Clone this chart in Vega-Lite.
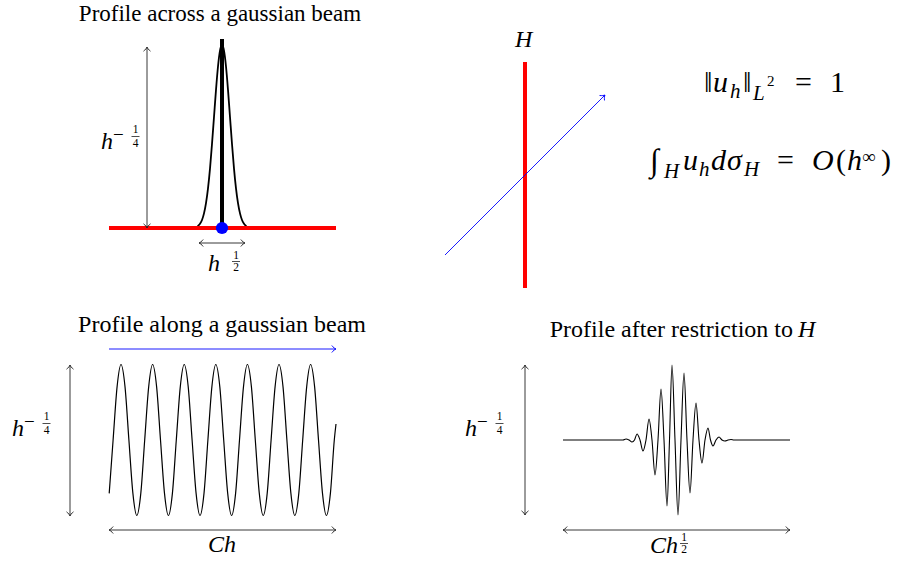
{
  "$schema": "https://vega.github.io/schema/vega-lite/v6.json",
  "width": 901,
  "height": 567,
  "autosize": {"type": "fit", "contains": "padding"},
  "padding": 0,
  "background": "white",
  "config": {"view": {"stroke": null}},
  "datasets": {
    "gaussian": [
      {"x": 196, "y": 228}, {"x": 198, "y": 226}, {"x": 200, "y": 223.8}, {"x": 202, "y": 220},
      {"x": 204, "y": 213.4}, {"x": 206, "y": 203.2}, {"x": 208, "y": 188.4}, {"x": 210, "y": 168.6},
      {"x": 212, "y": 144}, {"x": 214, "y": 117}, {"x": 216, "y": 89.9}, {"x": 218, "y": 66.5},
      {"x": 220, "y": 50.7}, {"x": 222, "y": 45}, {"x": 224, "y": 50.7}, {"x": 226, "y": 66.5},
      {"x": 228, "y": 89.9}, {"x": 230, "y": 117}, {"x": 232, "y": 144}, {"x": 234, "y": 168.6},
      {"x": 236, "y": 188.4}, {"x": 238, "y": 203.2}, {"x": 240, "y": 213.4}, {"x": 242, "y": 220},
      {"x": 244, "y": 223.8}, {"x": 246, "y": 226}, {"x": 248, "y": 228}
    ],
    "redLines": [
      {"x": 109, "y": 228, "x2": 336, "y2": 228},
      {"x": 525, "y": 62, "x2": 525, "y2": 288}
    ],
    "beamAxis": [{"x": 222, "y": 39, "x2": 222, "y2": 228}],
    "dot": [{"x": 222, "y": 228}],
    "dims": [
      {"x": 147, "y": 47, "x2": 147, "y2": 228},
      {"x": 199, "y": 243, "x2": 245, "y2": 243},
      {"x": 70, "y": 365, "x2": 70, "y2": 516},
      {"x": 109, "y": 530, "x2": 336, "y2": 530},
      {"x": 525, "y": 365, "x2": 525, "y2": 515},
      {"x": 563, "y": 530, "x2": 790, "y2": 530}
    ],
    "dimHeads": [
      {"x": 147, "y": 47, "angle": -90}, {"x": 147, "y": 228, "angle": 90},
      {"x": 199, "y": 243, "angle": 180}, {"x": 245, "y": 243, "angle": 0},
      {"x": 70, "y": 365, "angle": -90}, {"x": 70, "y": 516, "angle": 90},
      {"x": 109, "y": 530, "angle": 180}, {"x": 336, "y": 530, "angle": 0},
      {"x": 525, "y": 365, "angle": -90}, {"x": 525, "y": 515, "angle": 90},
      {"x": 563, "y": 530, "angle": 180}, {"x": 790, "y": 530, "angle": 0}
    ],
    "rays": [
      {"x": 445, "y": 255, "x2": 605, "y2": 95},
      {"x": 109, "y": 349, "x2": 336, "y2": 349}
    ],
    "rayHeads": [
      {"x": 605, "y": 95, "angle": -45},
      {"x": 336, "y": 349, "angle": 0}
    ],
    "sine": [
      {"x": 109.2, "y": 493.4}, {"x": 113.1, "y": 440}, {"x": 117.1, "y": 386.6}, {"x": 121, "y": 364.5},
      {"x": 125, "y": 386.6}, {"x": 128.9, "y": 440}, {"x": 132.9, "y": 493.4}, {"x": 136.8, "y": 515.5},
      {"x": 140.8, "y": 493.4}, {"x": 144.7, "y": 440}, {"x": 148.7, "y": 386.6}, {"x": 152.6, "y": 364.5},
      {"x": 156.6, "y": 386.6}, {"x": 160.5, "y": 440}, {"x": 164.5, "y": 493.4}, {"x": 168.4, "y": 515.5},
      {"x": 172.4, "y": 493.4}, {"x": 176.3, "y": 440}, {"x": 180.3, "y": 386.6}, {"x": 184.2, "y": 364.5},
      {"x": 188.2, "y": 386.6}, {"x": 192.1, "y": 440}, {"x": 196.1, "y": 493.4}, {"x": 200, "y": 515.5},
      {"x": 204, "y": 493.4}, {"x": 207.9, "y": 440}, {"x": 211.9, "y": 386.6}, {"x": 215.8, "y": 364.5},
      {"x": 219.8, "y": 386.6}, {"x": 223.7, "y": 440}, {"x": 227.7, "y": 493.4}, {"x": 231.6, "y": 515.5},
      {"x": 235.6, "y": 493.4}, {"x": 239.5, "y": 440}, {"x": 243.5, "y": 386.6}, {"x": 247.4, "y": 364.5},
      {"x": 251.4, "y": 386.6}, {"x": 255.3, "y": 440}, {"x": 259.3, "y": 493.4}, {"x": 263.2, "y": 515.5},
      {"x": 267.2, "y": 493.4}, {"x": 271.1, "y": 440}, {"x": 275.1, "y": 386.6}, {"x": 279, "y": 364.5},
      {"x": 283, "y": 386.6}, {"x": 286.9, "y": 440}, {"x": 290.9, "y": 493.4}, {"x": 294.8, "y": 515.5},
      {"x": 298.8, "y": 493.4}, {"x": 302.7, "y": 440}, {"x": 306.7, "y": 386.6}, {"x": 310.6, "y": 364.5},
      {"x": 314.6, "y": 386.6}, {"x": 318.5, "y": 440}, {"x": 322.5, "y": 493.4}, {"x": 326.4, "y": 515.5},
      {"x": 330.4, "y": 493.4}, {"x": 334.3, "y": 440}, {"x": 336, "y": 424}
    ],
    "packet": [
      {"x": 563, "y": 440}, {"x": 610, "y": 440}, {"x": 620, "y": 440}, {"x": 623, "y": 440},
      {"x": 626, "y": 439}, {"x": 629, "y": 440}, {"x": 632, "y": 442}, {"x": 634.5, "y": 440},
      {"x": 637, "y": 434}, {"x": 640, "y": 440}, {"x": 643, "y": 451}, {"x": 646, "y": 440},
      {"x": 649, "y": 419}, {"x": 652, "y": 440}, {"x": 655, "y": 475}, {"x": 658, "y": 440},
      {"x": 661, "y": 389}, {"x": 664, "y": 440}, {"x": 667, "y": 506}, {"x": 669.5, "y": 440},
      {"x": 672, "y": 365}, {"x": 675, "y": 440}, {"x": 678, "y": 515}, {"x": 681, "y": 440},
      {"x": 684, "y": 373}, {"x": 687, "y": 440}, {"x": 690, "y": 493}, {"x": 693, "y": 440},
      {"x": 696, "y": 403}, {"x": 699, "y": 440}, {"x": 702, "y": 463}, {"x": 705, "y": 440},
      {"x": 708, "y": 428}, {"x": 710.5, "y": 440}, {"x": 713, "y": 446}, {"x": 716, "y": 440},
      {"x": 719, "y": 437}, {"x": 722, "y": 440}, {"x": 725, "y": 441}, {"x": 728, "y": 440},
      {"x": 731, "y": 439.5}, {"x": 734, "y": 440}, {"x": 790, "y": 440}
    ],
    "fractionBars": [
      {"x": 131.5, "y": 136.5, "x2": 139.5, "y2": 136.5},
      {"x": 42.5, "y": 423.5, "x2": 50.5, "y2": 423.5},
      {"x": 495.5, "y": 423.5, "x2": 503.5, "y2": 423.5},
      {"x": 232, "y": 261.5, "x2": 240, "y2": 261.5},
      {"x": 680, "y": 543.5, "x2": 688, "y2": 543.5}
    ],
    "titleTop": [
      {"x": 220, "y": 21, "text": "Profile across a gaussian beam"}
    ],
    "titles": [
      {"x": 222, "y": 332, "text": "Profile along a gaussian beam"}
    ],
    "titleRight": [
      {"x": 793, "y": 337, "text": "Profile after restriction to"}
    ],
    "labels": [
      {"x": 101, "y": 149, "text": "h"},
      {"x": 12, "y": 436, "text": "h"},
      {"x": 465, "y": 436, "text": "h"},
      {"x": 208, "y": 271, "text": "h"},
      {"x": 650, "y": 553, "text": "Ch"},
      {"x": 208, "y": 552, "text": "Ch"},
      {"x": 515, "y": 47, "text": "H"},
      {"x": 798, "y": 337, "text": "H"}
    ],
    "supUpright": [
      {"x": 113, "y": 141, "text": "−"},
      {"x": 24, "y": 428, "text": "−"},
      {"x": 477, "y": 428, "text": "−"},
      {"x": 862, "y": 163, "text": "∞"}
    ],
    "digits": [
      {"x": 135.5, "y": 133, "text": "1"}, {"x": 135.5, "y": 147, "text": "4"},
      {"x": 46.5, "y": 420, "text": "1"}, {"x": 46.5, "y": 434, "text": "4"},
      {"x": 499.5, "y": 420, "text": "1"}, {"x": 499.5, "y": 434, "text": "4"},
      {"x": 236, "y": 259, "text": "1"}, {"x": 236, "y": 271, "text": "2"},
      {"x": 684, "y": 541, "text": "1"}, {"x": 684, "y": 553, "text": "2"}
    ],
    "powerDigits": [
      {"x": 767, "y": 86, "text": "2"}
    ],
    "formulaItalic": [
      {"x": 713, "y": 92, "text": "u"},
      {"x": 683, "y": 170, "text": "u"},
      {"x": 711, "y": 170, "text": "d"},
      {"x": 727, "y": 170, "text": "σ"},
      {"x": 812, "y": 170, "text": "O"},
      {"x": 847, "y": 170, "text": "h"}
    ],
    "formulaUpright": [
      {"x": 704, "y": 92, "text": "‖"},
      {"x": 743, "y": 92, "text": "‖"},
      {"x": 795, "y": 92, "text": "="},
      {"x": 830, "y": 92, "text": "1"},
      {"x": 777, "y": 170, "text": "="},
      {"x": 836, "y": 170, "text": "("},
      {"x": 881, "y": 170, "text": ")"}
    ],
    "integral": [{"x": 650, "y": 171, "text": "∫"}],
    "subItalic": [
      {"x": 730, "y": 98, "text": "h"},
      {"x": 753, "y": 100, "text": "L"},
      {"x": 664, "y": 178, "text": "H"},
      {"x": 699, "y": 176, "text": "h"},
      {"x": 744, "y": 176, "text": "H"}
    ]
  },
  "encoding": {
    "x": {"field": "x", "type": "quantitative", "scale": {"domain": [0, 901], "nice": false, "zero": false}, "axis": null},
    "y": {"field": "y", "type": "quantitative", "scale": {"domain": [0, 567], "nice": false, "zero": false, "reverse": true}, "axis": null}
  },
  "layer": [
    {
      "data": {"name": "gaussian"},
      "mark": {"type": "line", "interpolate": "monotone", "color": "black", "strokeWidth": 1.8}
    },
    {
      "data": {"name": "redLines"},
      "mark": {"type": "rule", "color": "#ff0000", "strokeWidth": 4},
      "encoding": {"x2": {"field": "x2"}, "y2": {"field": "y2"}}
    },
    {
      "data": {"name": "beamAxis"},
      "mark": {"type": "rule", "color": "black", "strokeWidth": 4},
      "encoding": {"x2": {"field": "x2"}, "y2": {"field": "y2"}}
    },
    {
      "data": {"name": "dot"},
      "mark": {"type": "point", "shape": "circle", "filled": true, "color": "#0000ff", "opacity": 1, "size": 150}
    },
    {
      "data": {"name": "dims"},
      "mark": {"type": "rule", "color": "#222222", "strokeWidth": 0.9},
      "encoding": {"x2": {"field": "x2"}, "y2": {"field": "y2"}}
    },
    {
      "data": {"name": "dimHeads"},
      "mark": {"type": "point", "shape": "M-1.2,-1C-0.8,-0.45,-0.3,-0.1,0,0C-0.3,0.1,-0.8,0.45,-1.2,1", "filled": false, "color": "#222222", "opacity": 1, "strokeWidth": 0.9, "size": 49},
      "encoding": {"angle": {"field": "angle", "type": "quantitative", "scale": null}}
    },
    {
      "data": {"name": "rays"},
      "mark": {"type": "rule", "color": "#0000ff", "strokeWidth": 0.9},
      "encoding": {"x2": {"field": "x2"}, "y2": {"field": "y2"}}
    },
    {
      "data": {"name": "rayHeads"},
      "mark": {"type": "point", "shape": "M-1.2,-1C-0.8,-0.45,-0.3,-0.1,0,0C-0.3,0.1,-0.8,0.45,-1.2,1", "filled": false, "color": "#0000ff", "opacity": 1, "strokeWidth": 0.9, "size": 49},
      "encoding": {"angle": {"field": "angle", "type": "quantitative", "scale": null}}
    },
    {
      "data": {"name": "sine"},
      "mark": {"type": "line", "interpolate": "monotone", "color": "black", "strokeWidth": 1.2}
    },
    {
      "data": {"name": "packet"},
      "mark": {"type": "line", "interpolate": "monotone", "color": "black", "strokeWidth": 1.1}
    },
    {
      "data": {"name": "fractionBars"},
      "mark": {"type": "rule", "color": "black", "strokeWidth": 0.7},
      "encoding": {"x2": {"field": "x2"}, "y2": {"field": "y2"}}
    },
    {
      "data": {"name": "titleTop"},
      "mark": {"type": "text", "font": "Liberation Serif, DejaVu Serif, serif", "fontSize": 23, "align": "center", "baseline": "alphabetic", "color": "black"},
      "encoding": {"text": {"field": "text"}}
    },
    {
      "data": {"name": "titles"},
      "mark": {"type": "text", "font": "Liberation Serif, DejaVu Serif, serif", "fontSize": 24, "align": "center", "baseline": "alphabetic", "color": "black"},
      "encoding": {"text": {"field": "text"}}
    },
    {
      "data": {"name": "titleRight"},
      "mark": {"type": "text", "font": "Liberation Serif, DejaVu Serif, serif", "fontSize": 24, "align": "right", "baseline": "alphabetic", "color": "black"},
      "encoding": {"text": {"field": "text"}}
    },
    {
      "data": {"name": "labels"},
      "mark": {"type": "text", "font": "Liberation Serif, DejaVu Serif, serif", "fontSize": 24, "fontStyle": "italic", "align": "left", "baseline": "alphabetic", "color": "black"},
      "encoding": {"text": {"field": "text"}}
    },
    {
      "data": {"name": "supUpright"},
      "mark": {"type": "text", "font": "Liberation Serif, DejaVu Serif, serif", "fontSize": 19, "align": "left", "baseline": "alphabetic", "color": "black"},
      "encoding": {"text": {"field": "text"}}
    },
    {
      "data": {"name": "digits"},
      "mark": {"type": "text", "font": "Liberation Serif, DejaVu Serif, serif", "fontSize": 11.5, "align": "center", "baseline": "alphabetic", "color": "black"},
      "encoding": {"text": {"field": "text"}}
    },
    {
      "data": {"name": "powerDigits"},
      "mark": {"type": "text", "font": "Liberation Serif, DejaVu Serif, serif", "fontSize": 15, "align": "left", "baseline": "alphabetic", "color": "black"},
      "encoding": {"text": {"field": "text"}}
    },
    {
      "data": {"name": "formulaItalic"},
      "mark": {"type": "text", "font": "Liberation Serif, DejaVu Serif, serif", "fontSize": 30, "fontStyle": "italic", "align": "left", "baseline": "alphabetic", "color": "black"},
      "encoding": {"text": {"field": "text"}}
    },
    {
      "data": {"name": "formulaUpright"},
      "mark": {"type": "text", "font": "Liberation Serif, DejaVu Serif, serif", "fontSize": 30, "align": "left", "baseline": "alphabetic", "color": "black"},
      "encoding": {"text": {"field": "text"}}
    },
    {
      "data": {"name": "integral"},
      "mark": {"type": "text", "font": "Liberation Serif, DejaVu Serif, serif", "fontSize": 32, "align": "left", "baseline": "alphabetic", "color": "black"},
      "encoding": {"text": {"field": "text"}}
    },
    {
      "data": {"name": "subItalic"},
      "mark": {"type": "text", "font": "Liberation Serif, DejaVu Serif, serif", "fontSize": 21, "fontStyle": "italic", "align": "left", "baseline": "alphabetic", "color": "black"},
      "encoding": {"text": {"field": "text"}}
    }
  ]
}
